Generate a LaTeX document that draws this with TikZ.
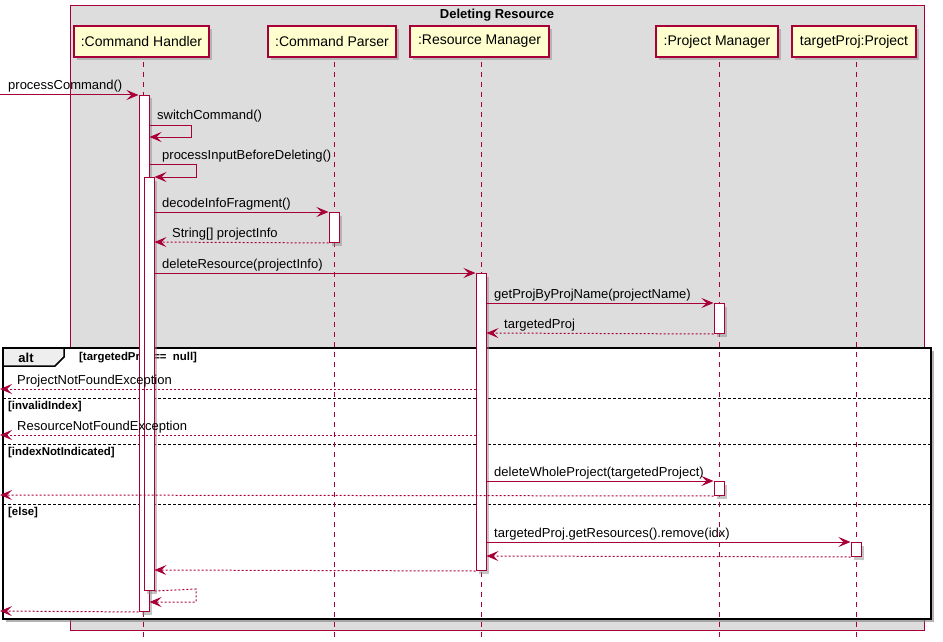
\documentclass[tikz,border=0pt]{standalone}
\usepackage{fontspec}
\setmainfont{Liberation Sans}
\usetikzlibrary{arrows.meta,shadows}
\definecolor{pu}{HTML}{A80036}
\definecolor{grp}{HTML}{DDDDDD}
\definecolor{part}{HTML}{FEFECE}
\definecolor{tabc}{HTML}{EEEEEE}
\begin{document}
\begin{tikzpicture}[x=1pt,y=-1pt,
  font=\fontsize{13}{15}\selectfont,
  shad/.style={drop shadow={shadow xshift=3pt,shadow yshift=-3pt,fill=black!45,opacity=0.5}},
  participant/.style={draw=pu,line width=1.5pt,fill=part,inner sep=0pt,minimum height=31pt,font=\fontsize{14}{16}\selectfont,shad},
  lifeline/.style={draw=pu,line width=1pt,dash pattern=on 5pt off 5pt},
  actbar/.style={draw=pu,line width=1pt,fill=white,inner sep=0pt,minimum width=10pt,anchor=north,shad},
  msg/.style={draw=pu,line width=1pt,-{Stealth[length=12pt,width=10pt,inset=5pt]}},
  ret/.style={msg,dash pattern=on 2pt off 2pt},
  lbl/.style={anchor=base west,inner sep=0pt},
  cond/.style={anchor=west,inner sep=0pt,font=\fontsize{11.4}{13}\selectfont\bfseries},
  sep/.style={draw=black,line width=1pt,dash pattern=on 3pt off 2pt},
]
\useasboundingbox (0,0) rectangle (943,642);
% group box
\draw[pu,line width=1pt,fill=grp] (70,6) rectangle (924,630);
\node[font=\fontsize{13}{15}\selectfont\bfseries,inner sep=0pt] (title) at (497,15.5) {Deleting Resource};
% participants
\node[participant,minimum width=135pt] (ch) at (141.5,41.5) {:Command Handler};
\node[participant,minimum width=128pt] (cp) at (332,41.5) {:Command Parser};
\node[participant,minimum width=139pt] (rm) at (479.5,41.5) {:Resource Manager};
\node[participant,minimum width=122pt] (pm) at (717,41.5) {:Project Manager};
\node[participant,minimum width=124pt] (tp) at (854,41.5) {targetProj:Project};
% alt frame
\draw[black,line width=2pt,fill=white,drop shadow={shadow xshift=3pt,shadow yshift=-3pt,fill=black!50,opacity=0.6}] (3,348) rectangle (931,619);
\draw[black,line width=1.5pt,fill=tabc] (3,348) -- (64,348) -- (64,357) -- (55,366) -- (3,366) -- cycle;
\draw[black,line width=2pt] (3,348) rectangle (931,619);
\node[font=\fontsize{13}{15}\selectfont\bfseries,inner sep=0pt] (altl) at (26,357.5) {alt};
\node[cond] (c1) at (79,357.5) {[targetedProj ==\ \ null]};
\draw[sep] (3,398) -- (931,398);
\node[cond] (c2) at (8,406.5) {[invalidIndex]};
\draw[sep] (3,444) -- (931,444);
\node[cond] (c3) at (8,452.5) {[indexNotIndicated]};
\draw[sep] (3,504) -- (931,504);
\node[cond] (c4) at (8,512.5) {[else]};
% lifelines
\draw[lifeline] (143,62) -- (143,637);
\draw[lifeline] (334,62) -- (334,637);
\draw[lifeline] (481,62) -- (481,637);
\draw[lifeline] (719,62) -- (719,637);
\draw[lifeline] (856,62) -- (856,637);
% activation bars
\node[actbar,minimum height=516pt] (a1) at (144,95) {};
\node[actbar,minimum height=413pt] (a2) at (149,177) {};
\node[actbar,minimum height=30pt] (ap1) at (334,212) {};
\node[actbar,minimum height=297pt] (ar) at (481,273) {};
\node[actbar,minimum height=30pt] (am1) at (719,303) {};
\node[actbar,minimum height=14pt] (am2) at (719,481) {};
\node[actbar,minimum height=14pt] (at) at (856,542) {};
% messages
\coordinate (in1) at (0,95);
\draw[msg] (in1) -- (a1.north west);
\node[lbl] at (8,90) {processCommand()};
\draw[msg] (a1.east |- 0,125) -- (191,125) -- (191,137) -- (a1.east |- 0,137);
\node[lbl] at (157,120) {switchCommand()};
\draw[msg] (a1.east |- 0,164) -- (196,164) -- (196,177) -- (a2.north east);
\node[lbl] at (162,159) {processInputBeforeDeleting()};
\draw[msg] (a2.east |- 0,212) -- (ap1.north west);
\node[lbl] at (162,207) {decodeInfoFragment()};
\draw[ret] (ap1.south west) -- (a2.east |- 0,242);
\node[lbl] at (172,237) {String[] projectInfo};
\draw[msg] (a2.east |- 0,273) -- (ar.north west);
\node[lbl] at (162,268) {deleteResource(projectInfo)};
\draw[msg] (ar.east |- 0,303) -- (am1.north west);
\node[lbl] at (494,298) {getProjByProjName(projectName)};
\draw[ret] (am1.south west) -- (ar.east |- 0,333);
\node[lbl] at (504,328) {targetedProj};
\coordinate (out1) at (0,389);
\draw[ret] (ar.west |- 0,389) -- (out1);
\node[lbl] at (17,384) {ProjectNotFoundException};
\coordinate (out2) at (0,435);
\draw[ret] (ar.west |- 0,435) -- (out2);
\node[lbl] at (17,430) {ResourceNotFoundException};
\draw[msg] (ar.east |- 0,481) -- (am2.north west);
\node[lbl] at (494,476) {deleteWholeProject(targetedProject)};
\coordinate (out3) at (0,495);
\draw[ret] (am2.south west) -- (out3);
\draw[msg] (ar.east |- 0,542) -- (at.north west);
\node[lbl] at (494,537) {targetedProj.getResources().remove(idx)};
\draw[ret] (at.south west) -- (ar.east |- 0,556);
\draw[ret] (ar.south west) -- (a2.east |- 0,570);
\draw[ret] (a2.south east) -- (196,589) -- (196,602) -- (a1.east |- 0,602);
\coordinate (out4) at (0,611);
\draw[ret] (a1.south west) -- (out4);
\end{tikzpicture}
\end{document}
